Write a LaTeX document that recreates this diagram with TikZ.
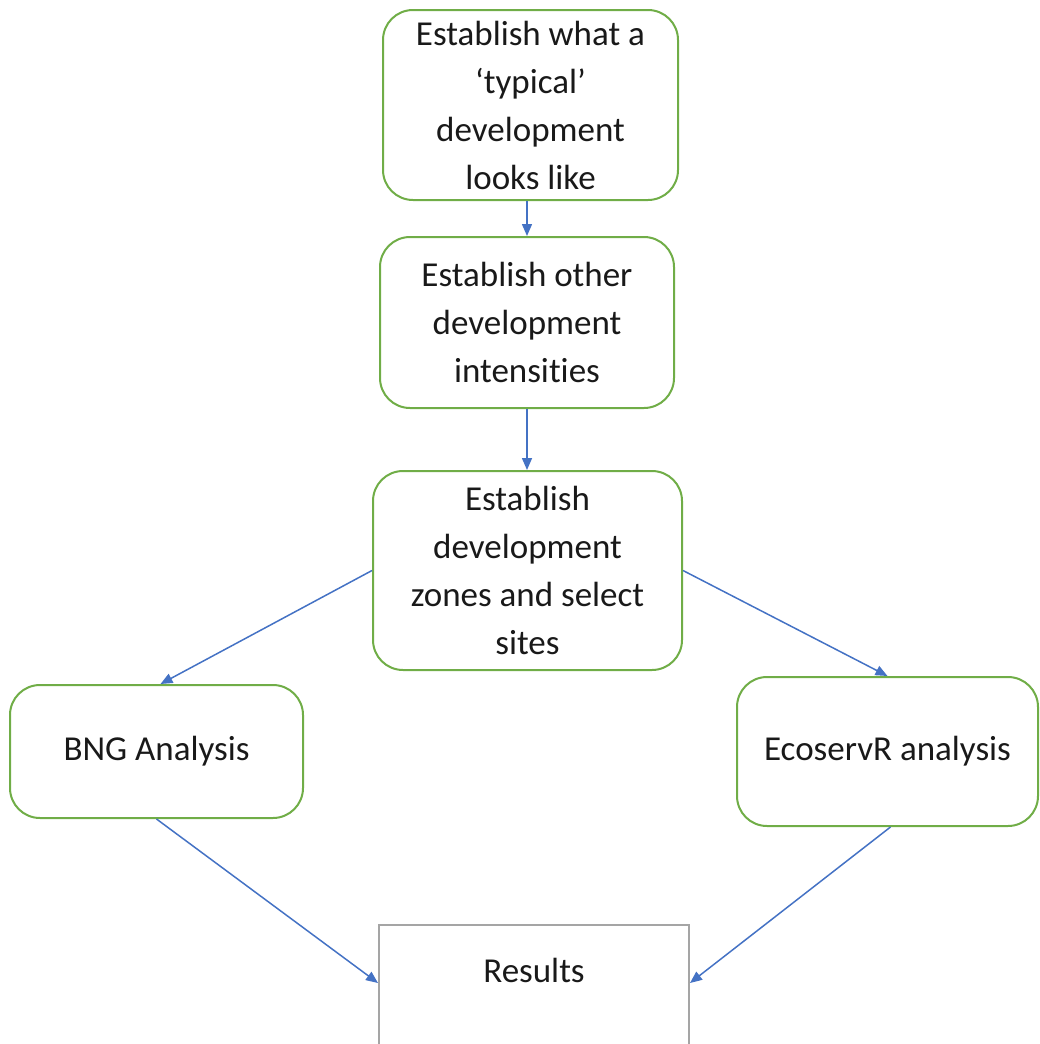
\documentclass[tikz,border=0pt]{standalone}
\usepackage{fontspec}
\setmainfont{Carlito}[Ligatures=NoCommon]
\usetikzlibrary{arrows.meta,calc}
\definecolor{boxgreen}{HTML}{70AD47}
\definecolor{arrblue}{HTML}{4472C4}
\definecolor{resgray}{HTML}{A5A5A5}
\tikzset{
  stepbox/.style={draw=boxgreen, line width=2pt, rounded corners=30pt, align=center, inner sep=0pt,
    font=\fontsize{35}{48}\selectfont, text=black!90},
  resbox/.style={draw=resgray, line width=2pt, inner sep=0pt},
  conn/.style={draw=arrblue, line width=1.5pt, -{Triangle[length=12pt,width=10pt]}},
}
\begin{document}
\begin{tikzpicture}[x=1pt,y=-1pt]
\useasboundingbox (0,0) rectangle (1039,1044);
\node[stepbox, minimum width=295pt, minimum height=190pt] (b1) at (530.5,105) {Establish what a\\‘typical’\\development\\looks like};
\node[stepbox, minimum width=294pt, minimum height=171pt] (b2) at (527,322.5) {Establish other\\development\\intensities};
\node[stepbox, minimum width=309pt, minimum height=199pt] (b3) at (527.5,570.5) {Establish\\development\\zones and select\\sites};
\node[stepbox, minimum width=293pt, minimum height=133pt] (b4) at (156.5,751.5) {BNG Analysis};
\node[stepbox, minimum width=301pt, minimum height=149pt] (b5) at (887.5,751.5) {EcoservR analysis};
\node[resbox, minimum width=310pt, minimum height=150pt, anchor=north] (res) at (534,924) {};
\node[font=\fontsize{35}{48}\selectfont, text=black!90, anchor=center] (rest) at (534,970) {Results};
\coordinate (rl) at ($(res.north west)+(0,59)$);
\coordinate (rr) at ($(res.north east)+(0,59)$);
\draw[conn] (b1.south -| b2.north) -- (b2.north);
\draw[conn] (b2.south) -- (b3.north -| b2.south);
\draw[conn] (b3.west) -- ($(b4.north)+(4,0)$);
\draw[conn] (b3.east) -- (b5.north);
\draw[conn] (b4.south) -- (rl);
\draw[conn] ($(b5.south)+(3,0)$) -- (rr);
\end{tikzpicture}
\end{document}
